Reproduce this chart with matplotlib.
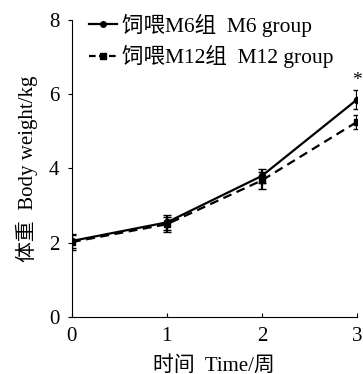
import matplotlib
matplotlib.use("Agg")
import matplotlib.pyplot as plt
from matplotlib.lines import Line2D

plt.rcParams['font.family'] = ['Liberation Serif', 'Noto Sans CJK SC']
plt.rcParams['font.size'] = 11

# Data
weeks = [0, 1, 2, 3]
m6_mean = [2.05, 2.55, 3.80, 5.85]
m6_err = [0.20, 0.20, 0.18, 0.25]
m12_mean = [2.02, 2.50, 3.68, 5.25]
m12_err = [0.20, 0.20, 0.22, 0.20]
m6_label = "饲喂M6组  M6 group"
m12_label = "饲喂M12组  M12 group"

fig = plt.figure(figsize=(3.63, 3.74), dpi=100)
ax = fig.add_axes([0.198, 0.152, 0.785, 0.795])

ax.errorbar(weeks, m6_mean, yerr=m6_err, color="black", linestyle="-",
            marker="o", markersize=4.5, linewidth=1.6, capsize=3, elinewidth=1.6)
ax.errorbar(weeks, m12_mean, yerr=m12_err, color="black", linestyle="--",
            marker="s", markersize=4.5, linewidth=1.6, capsize=3, elinewidth=1.6,
            dashes=(4, 2.5))

# significance mark
ax.text(weeks[3], m6_mean[3] + m6_err[3] + 0.05, "*", ha="center", va="bottom", fontsize=14)

ax.set_xlim(0, 3)
ax.set_ylim(0, 8)
ax.set_xticks([0, 1, 2, 3])
ax.set_yticks([0, 2, 4, 6, 8])
ax.spines["top"].set_visible(False)
ax.spines["right"].set_visible(False)
ax.tick_params(axis="x", direction="in", length=3, labelsize=15, pad=7)
ax.tick_params(axis="y", direction="out", length=3, labelsize=15, pad=6)

ax.set_xlabel("时间  Time/周", fontsize=15, labelpad=7)
ax.set_ylabel("体重  Body weight/kg", fontsize=15, labelpad=8)

handles = [
    Line2D([], [], color="black", linestyle="-", marker="o", markersize=4, linewidth=1.6),
    Line2D([], [], color="black", linestyle=(0, (3, 1.5)), marker="s", markersize=4, linewidth=1.6),
]
ax.legend(handles, [m6_label, m12_label], loc="upper left", frameon=False,
          fontsize=15.5, handlelength=1.3, handletextpad=0.25, borderaxespad=0,
          labelspacing=0.4, bbox_to_anchor=(0.03, 1.05))

fig.savefig("out.png", dpi=100)
